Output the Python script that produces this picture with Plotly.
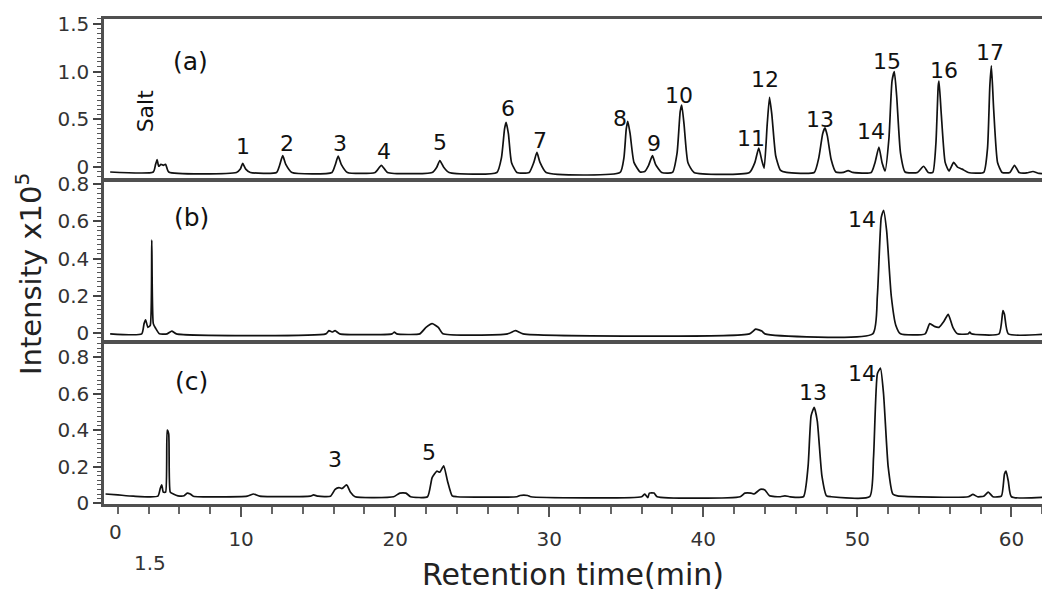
import plotly.graph_objects as go

# ---------------- data ----------------
# Panel (a): standard mixture
time_a = [1.5, 4.3, 4.45, 4.55, 4.65, 4.8, 4.95, 5.1, 5.3,
          9.7, 9.95, 10.1, 10.3, 10.6,
          12.3, 12.5, 12.7, 12.9, 13.3,
          15.9, 16.1, 16.3, 16.5, 16.9,
          18.7, 19.1, 19.5,
          22.4, 22.7, 22.9, 23.15, 23.5,
          26.6, 26.9, 27.1, 27.2, 27.35, 27.55, 27.9,
          28.7, 29.0, 29.2, 29.4, 29.8,
          34.6, 34.85, 35.0, 35.1, 35.25, 35.5, 35.9, 36.2, 36.45, 36.7, 36.9, 37.3,
          38.0, 38.3, 38.5, 38.6, 38.75, 39.0, 39.4,
          43.0, 43.35, 43.6, 43.8, 43.95, 44.15, 44.3, 44.45, 44.7, 45.0, 45.4,
          47.2, 47.5, 47.75, 47.9, 48.05, 48.3, 48.6,
          49.1, 49.4, 49.7,
          50.9, 51.15, 51.4, 51.6, 51.8, 52.05, 52.25, 52.4, 52.55, 52.8, 53.1,
          53.9, 54.3, 54.6,
          54.9, 55.1, 55.25, 55.3, 55.45, 55.7, 55.95, 56.25, 56.5, 56.8, 57.2,
          58.2, 58.45, 58.6, 58.7, 58.85, 59.1, 59.4,
          59.9, 60.2, 60.5,
          61.0, 61.4, 61.8, 62.7]
int_a = [-0.05, -0.05, 0.03, 0.08, 0.01, 0.03, 0.02, 0.03, -0.05,
         -0.055, -0.02, 0.04, -0.02, -0.055,
         -0.055, 0.02, 0.12, 0.03, -0.055,
         -0.055, 0.02, 0.115, 0.03, -0.055,
         -0.055, 0.02, -0.055,
         -0.055, 0.0, 0.07, 0.0, -0.055,
         -0.055, 0.1, 0.4, 0.47, 0.35, 0.05, -0.055,
         -0.055, 0.05, 0.155, 0.05, -0.055,
         -0.055, 0.1, 0.4, 0.48, 0.35, 0.05, -0.05, -0.045, 0.02, 0.12, 0.03, -0.055,
         -0.055, 0.15, 0.58, 0.65, 0.45, 0.05, -0.055,
         -0.055, 0.05, 0.2, 0.07, -0.01, 0.45, 0.73, 0.55, 0.12, -0.03, -0.055,
         -0.055, 0.1, 0.35, 0.41, 0.33, 0.08, -0.05,
         -0.055, -0.035, -0.055,
         -0.055, 0.05, 0.21, 0.05, -0.04, 0.3, 0.9, 1.0, 0.75, 0.15, -0.05,
         -0.055, 0.01, -0.055,
         -0.055, 0.25, 0.85, 0.9, 0.55, 0.05, -0.04, 0.05, 0.0, -0.02, -0.055,
         -0.055, 0.2, 0.85, 1.06, 0.6, 0.05, -0.055,
         -0.055, 0.02, -0.055,
         -0.06, -0.045, -0.065, -0.065]

# Panel (b)
time_b = [1.5, 3.55, 3.7, 3.8, 3.95, 4.1, 4.2, 4.3, 4.45, 4.7,
          5.2, 5.5, 5.8,
          15.5, 15.7, 15.9, 16.1, 16.4,
          19.8, 19.95, 20.1,
          21.6, 22.0, 22.4, 22.8, 23.1,
          27.3, 27.8, 28.3,
          43.0, 43.4, 43.8, 44.0,
          51.0, 51.3, 51.55, 51.7, 51.9, 52.2, 52.5, 52.8,
          54.4, 54.7, 55.0, 55.3, 55.6, 55.9, 56.2, 56.5,
          57.2, 57.3, 57.4,
          59.2, 59.45, 59.55, 59.8, 62.5]
int_b = [-0.005, -0.005, 0.05, 0.07, 0.03, 0.04, 0.5, 0.05, 0.025, -0.005,
         -0.005, 0.01, -0.005,
         -0.005, 0.012, 0.005, 0.012, -0.005,
         -0.005, 0.005, -0.005,
         -0.005, 0.03, 0.05, 0.03, -0.005,
         -0.005, 0.012, -0.005,
         -0.005, 0.02, 0.01, -0.005,
         -0.005, 0.2, 0.62, 0.66, 0.55, 0.2, 0.04, -0.005,
         -0.005, 0.05, 0.035, 0.03, 0.06, 0.1, 0.03, -0.005,
         -0.005, 0.005, -0.005,
         -0.005, 0.12, 0.1, -0.005, -0.005]

# Panel (c)
time_c = [1.2, 2.0, 3.0, 4.6, 4.75, 4.85, 4.95, 5.1, 5.2, 5.3, 5.4, 5.6, 5.9,
          6.3, 6.5, 6.7, 6.9,
          10.4, 10.8, 11.2,
          14.5, 14.7, 15.0,
          15.8, 16.1, 16.35, 16.55, 16.85, 17.1, 17.4,
          19.9, 20.3, 20.7, 21.0,
          22.1, 22.4, 22.7, 22.9, 23.15, 23.4, 23.7, 24.0,
          27.9, 28.1, 28.6, 28.8,
          36.0, 36.2, 36.4, 36.5, 36.8, 37.0,
          42.4, 42.7, 43.1, 43.3, 43.7, 44.0, 44.3,
          45.0, 45.3, 45.6,
          46.5, 46.8, 47.0, 47.2, 47.4, 47.7, 48.0, 48.3,
          50.8, 51.05, 51.3, 51.5, 51.7, 52.0, 52.3, 52.6,
          57.2, 57.5, 57.8, 58.2, 58.5, 58.8,
          59.35, 59.55, 59.65, 59.8, 60.0, 62.7]
int_c = [0.05, 0.045, 0.038, 0.038, 0.08, 0.1, 0.06, 0.06, 0.4, 0.38, 0.06, 0.05, 0.04,
         0.04, 0.055, 0.05, 0.038,
         0.038, 0.05, 0.038,
         0.038, 0.045, 0.038,
         0.038, 0.075, 0.085, 0.08, 0.1, 0.06, 0.035,
         0.035, 0.055, 0.055, 0.035,
         0.035, 0.14, 0.175, 0.17, 0.205, 0.12, 0.04, 0.035,
         0.035, 0.042, 0.042, 0.035,
         0.035, 0.05, 0.03, 0.055, 0.055, 0.035,
         0.035, 0.055, 0.055, 0.05, 0.075, 0.072, 0.04,
         0.035, 0.04, 0.035,
         0.035, 0.2, 0.48, 0.525, 0.45, 0.15, 0.04, 0.035,
         0.035, 0.25, 0.71, 0.74, 0.6, 0.2, 0.05, 0.04,
         0.035, 0.048, 0.035, 0.038, 0.06, 0.035,
         0.038, 0.16, 0.175, 0.12, 0.035, 0.035]

# Peak labels: text, time, height of the text centre
labels_a = ["1", "2", "3", "4", "5", "6", "7", "8", "9", "10",
            "11", "12", "13", "14", "15", "16", "17"]
label_t_a = [10.1, 13.0, 16.4, 19.3, 22.9, 27.3, 29.4, 34.6, 36.8, 38.4,
             43.1, 44.0, 47.6, 50.9, 51.9, 55.6, 58.6]
label_v_a = [0.216, 0.245, 0.245, 0.167, 0.255, 0.618, 0.275, 0.51, 0.245, 0.745,
             0.30, 0.912, 0.50, 0.373, 1.108, 1.01, 1.196]

labels_b = ["14"]
label_t_b = [50.3]
label_v_b = [0.61]

labels_c = ["3", "5", "13", "14"]
label_t_c = [16.1, 22.2, 47.1, 50.3]
label_v_c = [0.238, 0.275, 0.605, 0.71]

x_ticks = [10, 20, 30, 40, 50, 60]
y_ticks_a = [0, 0.5, 1.0, 1.5]
y_text_a = ["0", "0.5", "1.0", "1.5"]
y_ticks_bc = [0, 0.2, 0.4, 0.6, 0.8]
y_text_bc = ["0", "0.2", "0.4", "0.6", "0.8"]

# ---------------- figure ----------------
W, H = 1050, 594
FONT = "DejaVu Sans, Verdana, sans-serif"
LINE = dict(color="#111111", width=1.7, shape="spline", smoothing=0.5)
FRAME = "#505050"
TICKFONT = dict(family=FONT, size=20, color="#333")

fig = go.Figure()
fig.add_trace(go.Scatter(x=time_a, y=int_a, mode="lines", line=LINE,
                         xaxis="x", yaxis="y", hoverinfo="skip"))
fig.add_trace(go.Scatter(x=time_b, y=int_b, mode="lines", line=LINE,
                         xaxis="x2", yaxis="y2", hoverinfo="skip"))
fig.add_trace(go.Scatter(x=time_c, y=int_c, mode="lines", line=LINE,
                         xaxis="x3", yaxis="y3", hoverinfo="skip"))

xdom = [96 / W, 1045 / W]
xr = [1.1, 62.7]


def px_y(p):
    return 1 - p / H


xcommon = dict(range=xr, domain=xdom, showline=True, mirror=True, linecolor=FRAME,
               linewidth=2.5, showgrid=False, zeroline=False)
ycommon = dict(showline=True, mirror=True, linecolor=FRAME, linewidth=2.5,
               showgrid=False, zeroline=False, ticks="outside", ticklen=8,
               tickwidth=1.5, tickcolor="#444", tickfont=TICKFONT)

fig.update_layout(
    width=W, height=H, margin=dict(l=0, r=0, t=0, b=0),
    paper_bgcolor="white", plot_bgcolor="white", showlegend=False,
    font=dict(family=FONT, color="#222"),
    xaxis=dict(**xcommon, anchor="y", showticklabels=False, ticks=""),
    xaxis2=dict(**xcommon, anchor="y2", matches="x", showticklabels=False, ticks=""),
    xaxis3=dict(**xcommon, anchor="y3", matches="x", ticks="outside",
                tickvals=x_ticks, ticktext=[str(v) for v in x_ticks],
                ticklen=10, tickwidth=2, tickcolor="#555",
                ticklabelstandoff=5, tickfont=TICKFONT,
                minor=dict(dtick=2, tick0=0, ticks="outside", ticklen=7,
                           tickwidth=2, tickcolor="#666")),
    yaxis=dict(**ycommon, anchor="x", domain=[px_y(168), px_y(2)],
               range=[-0.127, 1.55], tickvals=y_ticks_a, ticktext=y_text_a,
               minor=dict(dtick=0.05, tick0=0, ticks="outside", ticklen=4,
                          tickwidth=1, tickcolor="#555")),
    yaxis2=dict(**ycommon, anchor="x2", domain=[px_y(335), px_y(170)],
                range=[-0.042, 0.816], tickvals=y_ticks_bc, ticktext=y_text_bc,
                minor=dict(dtick=0.025, tick0=0, ticks="outside", ticklen=4,
                           tickwidth=1, tickcolor="#555")),
    yaxis3=dict(**ycommon, anchor="x3", domain=[px_y(504), px_y(337)],
                range=[-0.005, 0.88], tickvals=y_ticks_bc, ticktext=y_text_bc,
                minor=dict(dtick=0.025, tick0=0, ticks="outside", ticklen=4,
                           tickwidth=1, tickcolor="#555")),
)

ann = []
lab_font = dict(family=FONT, size=22, color="#111")


def add_labels(texts, ts, vs, xref, yref):
    for s, t, v in zip(texts, ts, vs):
        ann.append(dict(text=s, x=t, y=v, xref=xref, yref=yref, showarrow=False,
                        xanchor="center", yanchor="middle", font=lab_font))


add_labels(labels_a, label_t_a, label_v_a, "x", "y")
add_labels(labels_b, label_t_b, label_v_b, "x2", "y2")
add_labels(labels_c, label_t_c, label_v_c, "x3", "y3")

# panel tags
for tag, t, v, xr_, yr_ in [("(a)", 6.7, 1.108, "x", "y"),
                            ("(b)", 6.75, 0.62, "x2", "y2"),
                            ("(c)", 6.75, 0.667, "x3", "y3")]:
    ann.append(dict(text=tag, x=t, y=v, xref=xr_, yref=yr_, showarrow=False,
                    xanchor="center", yanchor="middle",
                    font=dict(family=FONT, size=25, color="#111")))

# "Salt" label (rotated)
ann.append(dict(text="Salt", x=3.8, y=0.59, xref="x", yref="y", showarrow=False,
                textangle=-90, xanchor="center", yanchor="middle", font=lab_font))

# stray axis labels of the original ("0" and "1.5")
ann.append(dict(text="0", x=1.82, y=px_y(533), xref="x3", yref="paper", showarrow=False,
                xanchor="center", yanchor="middle", font=TICKFONT))
ann.append(dict(text="1.5", x=4.1, y=px_y(565), xref="x3", yref="paper", showarrow=False,
                xanchor="center", yanchor="middle",
                font=dict(family=FONT, size=20, color="#333")))

# axis titles
ann.append(dict(text="Retention time(min)", x=565 / W, y=px_y(577), xref="paper",
                yref="paper", showarrow=False, xanchor="center", yanchor="middle",
                font=dict(family=FONT, size=30, color="#222")))
ann.append(dict(text="Intensity x10<sup>5</sup>", x=21 / W, y=px_y(266), xref="paper",
                yref="paper", showarrow=False, textangle=-90, xanchor="center",
                yanchor="middle", font=dict(family=FONT, size=29, color="#222")))

fig.update_layout(annotations=ann)
fig.write_html("out.html", config={"displayModeBar": False})
